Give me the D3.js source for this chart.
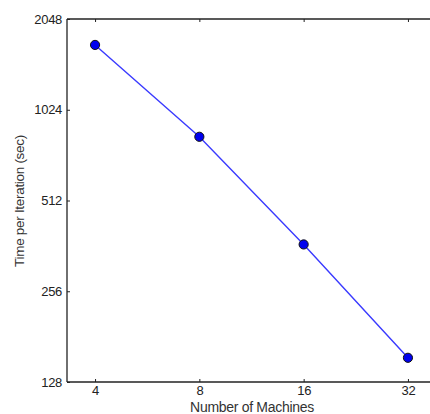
<!DOCTYPE html>
<html><head><meta charset="utf-8">
<script src="https://cdn.jsdelivr.net/npm/d3@7"></script>
<style>body{margin:0;background:#fff;overflow:hidden}svg{display:block}text{font-family:"Liberation Sans",Arial,sans-serif}</style>
</head><body><svg id="c" width="430" height="414"></svg>
<script>
const machines = [4, 8, 16, 32];
const timePerIteration = [1680, 833, 366, 154];
const xTicks = [4, 8, 16, 32];
const yTicks = [128, 256, 512, 1024, 2048];

const svg = d3.select("#c");
const L = 67, T = 19, R = 436, B = 382;
const x = d3.scaleLog().base(2).domain([Math.pow(2, 1.731), Math.pow(2, 5.269)]).range([L, R]);
const y = d3.scaleLog().base(2).domain([128, 2048]).range([B, T]);

const axisColor = "#222";
svg.append("line").attr("x1", L).attr("x2", R).attr("y1", T).attr("y2", T).attr("stroke", axisColor).attr("stroke-width", 1.3);
svg.append("line").attr("x1", L).attr("x2", R).attr("y1", B).attr("y2", B).attr("stroke", axisColor).attr("stroke-width", 1.3);
svg.append("line").attr("x1", L).attr("x2", L).attr("y1", T).attr("y2", B).attr("stroke", axisColor).attr("stroke-width", 1.3);

const xb = d3.axisBottom(x).tickValues(xTicks).tickFormat(d3.format("d")).tickSizeInner(-3).tickSizeOuter(0).tickPadding(4);
const gx = svg.append("g").attr("transform", `translate(0,${B})`).call(xb);
gx.select(".domain").remove();
gx.selectAll("line").attr("stroke", axisColor);
gx.selectAll("text").attr("font-size", 13).attr("fill", "#222").attr("letter-spacing", -0.3);

const xt = d3.axisTop(x).tickValues(xTicks).tickFormat("").tickSizeInner(-3).tickSizeOuter(0);
const gxt = svg.append("g").attr("transform", `translate(0,${T})`).call(xt);
gxt.select(".domain").remove();
gxt.selectAll("line").attr("stroke", axisColor);

const yl = d3.axisLeft(y).tickValues(yTicks).tickFormat(d3.format("d")).tickSizeInner(-3).tickSizeOuter(0).tickPadding(5);
const gy = svg.append("g").attr("transform", `translate(${L},0)`).call(yl);
gy.select(".domain").remove();
gy.selectAll("line").attr("stroke", axisColor);
gy.selectAll("text").attr("font-size", 13).attr("fill", "#222").attr("letter-spacing", -0.3);

const line = d3.line().x((d, i) => x(machines[i])).y(d => y(d));
svg.append("path").datum(timePerIteration).attr("d", line).attr("fill", "none").attr("stroke", "#3a3aff").attr("stroke-width", 1.4);

svg.selectAll("circle.pt").data(timePerIteration).enter().append("circle").attr("class", "pt")
  .attr("cx", (d, i) => x(machines[i])).attr("cy", d => y(d)).attr("r", 4.6)
  .attr("fill", "#0000ee").attr("stroke", "#111").attr("stroke-width", 1);

svg.append("text").attr("x", 252).attr("y", 412).attr("text-anchor", "middle").attr("font-size", 14).attr("fill", "#333").attr("letter-spacing", -0.3).text("Number of Machines");
svg.append("text").attr("transform", "translate(24,201) rotate(-90)").attr("text-anchor", "middle").attr("font-size", 13.5).attr("fill", "#333").attr("letter-spacing", -0.3).text("Time per Iteration (sec)");
</script></body></html>
